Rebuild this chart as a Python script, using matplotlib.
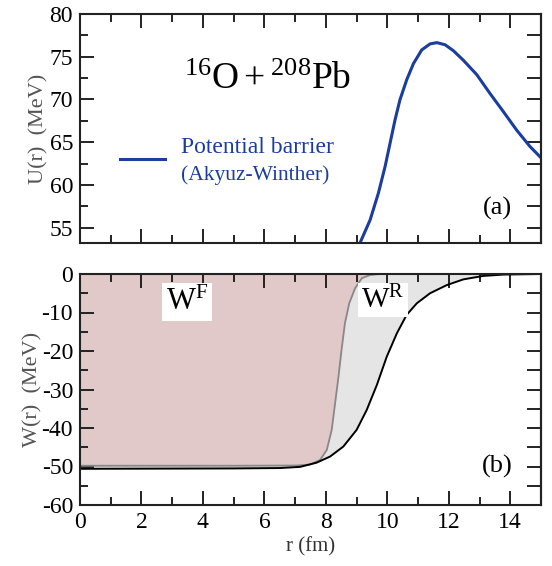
import matplotlib
matplotlib.use("Agg")
import matplotlib.pyplot as plt
import numpy as np
from matplotlib.ticker import MultipleLocator

plt.rcParams['font.family'] = ['Liberation Serif', 'DejaVu Serif']
plt.rcParams['mathtext.fontset'] = 'custom'
plt.rcParams['mathtext.rm'] = 'Liberation Serif'
plt.rcParams['mathtext.it'] = 'Liberation Serif:italic'
plt.rcParams['axes.unicode_minus'] = False

# Potential barrier (Akyuz-Winther)
r_U = [9.11, 9.44, 9.71, 9.93, 10.09, 10.25, 10.41, 10.63, 10.85, 11.12, 11.39, 11.61,
       11.88, 12.15, 12.47, 12.91, 13.34, 13.77, 14.21, 14.64, 15.02]
U = [53.2, 55.9, 59.05, 62.2, 64.9, 67.6, 69.95, 72.3, 74.2, 75.8, 76.5, 76.65,
     76.4, 75.7, 74.6, 72.9, 70.7, 68.6, 66.4, 64.5, 63.1]

# W^F (fusion) imaginary potential
r_WF = [0.0, 5.0, 7.0, 7.48, 7.81, 8.03, 8.19, 8.30, 8.41, 8.51, 8.62, 8.76, 8.95, 9.17, 9.44, 9.76, 15.0]
WF = [-49.8, -49.8, -49.75, -49.5, -48.3, -45.7, -40.5, -33.6, -26.7, -19.7, -12.8, -7.6, -3.7, -1.1, -0.26, 0.0, 0.0]

# W^R (reaction) imaginary potential
r_WR = [0.0, 5.0, 6.5, 7.16, 7.70, 8.14, 8.57, 9.00, 9.33, 9.66, 9.98, 10.31, 10.63, 10.96,
        11.39, 11.93, 12.47, 13.12, 13.77, 15.0]
WR = [-50.6, -50.5, -50.4, -50.1, -49.0, -47.4, -44.8, -40.5, -35.3, -28.8, -21.5, -15.4, -10.6, -7.6,
      -5.0, -2.9, -1.4, -0.5, -0.15, 0.0]

blue = '#1a3d9e'

fig = plt.figure(figsize=(5.52, 5.66), dpi=100)
ax1 = fig.add_axes([80/552, 1-243/566, 461/552, 229/566])
ax2 = fig.add_axes([80/552, 1-505/566, 461/552, 231/566])

def style(ax):
    for s in ax.spines.values():
        s.set_linewidth(1.5)
        s.set_color('#222222')
    ax.tick_params(which='both', direction='in', top=True, right=False, width=1.4, color='#222222')
    ax.tick_params(which='major', length=10, labelsize=17, pad=5)
    ax.tick_params(which='minor', length=5.5)
    ax.xaxis.set_major_locator(MultipleLocator(2))
    ax.xaxis.set_minor_locator(MultipleLocator(1))

# top panel
ax1.plot(r_U, U, color=blue, lw=2.2, solid_joinstyle='round')
ax1.set_xlim(0, 15)
ax1.set_ylim(53.2, 80)
style(ax1)
ax1.yaxis.set_major_locator(MultipleLocator(5))
ax1.yaxis.set_minor_locator(MultipleLocator(2.5))
ax1.set_xticklabels([])
sec1 = ax1.secondary_yaxis('right')
sec1.yaxis.set_major_locator(MultipleLocator(2.5))
sec1.tick_params(direction='in', length=10, width=1.4, labelright=False, color='#222222')
sec1.spines['right'].set_linewidth(1.5)
ax1.set_ylabel('U(r)  (MeV)', fontsize=16, color='#555555', labelpad=1)
ax1.text(3.4, 72.3, r'$^{16}\mathrm{O}+^{208}\mathrm{Pb}$', fontsize=27, ha='left', va='center')
ax1.plot([1.3, 2.75], [63.0, 63.0], color=blue, lw=2.2)
ax1.text(3.3, 64.4, 'Potential barrier', fontsize=17, color=blue, ha='left', va='center')
ax1.text(3.3, 61.2, '(Akyuz-Winther)', fontsize=15.5, color=blue, ha='left', va='center')
ax1.text(13.57, 57.3, '(a)', fontsize=19, ha='center', va='center')

# bottom panel
ax2.fill_between(r_WR, WR, 0, color='#e5e5e5', lw=0)
ax2.fill_between(r_WF, WF, 0, color='#e1c9c9', lw=0)
ax2.plot(r_WF, WF, color='#888888', lw=1.3, solid_joinstyle='round')
ax2.plot(r_WR, WR, color='black', lw=1.4, solid_joinstyle='round')
ax2.set_xlim(0, 15)
ax2.set_ylim(-60, 0)
style(ax2)
ax2.yaxis.set_major_locator(MultipleLocator(10))
ax2.yaxis.set_minor_locator(MultipleLocator(5))
sec2 = ax2.secondary_yaxis('right')
sec2.yaxis.set_major_locator(MultipleLocator(5))
sec2.tick_params(direction='in', length=10, width=1.4, labelright=False, color='#222222')
sec2.spines['right'].set_linewidth(1.5)
ax2.set_ylabel('W(r)  (MeV)', fontsize=16, color='#555555', labelpad=-1)
ax2.set_xlabel('r (fm)', fontsize=15, color='#333333', labelpad=3)
ax2.text(3.48, -7.3, r'W$^{\mathrm{F}}$', fontsize=22, ha='center', va='center',
         bbox=dict(facecolor='white', edgecolor='none', pad=3))
ax2.text(9.86, -6.8, r'W$^{\mathrm{R}}$', fontsize=21, ha='center', va='center',
         bbox=dict(facecolor='white', edgecolor='none', pad=2))
ax2.text(13.57, -50.0, '(b)', fontsize=19, ha='center', va='center')

fig.savefig('out.png', dpi=100)
